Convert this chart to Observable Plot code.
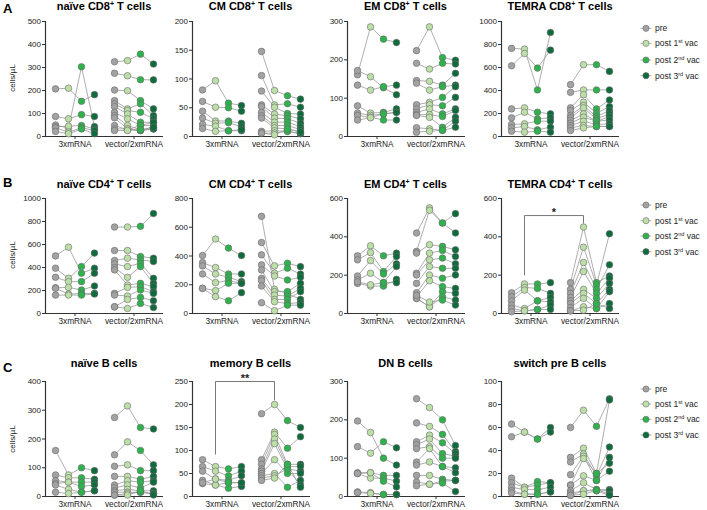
<!DOCTYPE html>
<html><head><meta charset="utf-8">
<script src="https://cdn.jsdelivr.net/npm/d3@7"></script>
<script src="https://cdn.jsdelivr.net/npm/@observablehq/plot@0.6"></script>
<style>
body{margin:0;background:#fff;}
#root{position:relative;width:707px;height:510px;overflow:hidden;background:#fff;font-family:"Liberation Sans",Arial,Helvetica,sans-serif;}
.title{position:absolute;font-weight:bold;font-size:11px;line-height:11px;white-space:nowrap;transform:translateX(-50%);color:#000;}
.title sup{font-size:7px;vertical-align:4px;line-height:0;}
.letter{position:absolute;font-weight:bold;font-size:13px;line-height:13px;color:#000;}
.leg{position:absolute;font-size:8.5px;line-height:9px;white-space:nowrap;color:#222;transform:translateY(-50%);}
.leg sup{font-size:5.5px;vertical-align:3px;line-height:0;}
.ylab{position:absolute;font-size:8px;white-space:nowrap;color:#222;transform:translate(-50%,-50%) rotate(-90deg);}
.plot{position:absolute;}
</style></head><body><div id="root"></div><script>
// ---------- data ----------
const groups = ["3xmRNA", "vector/2xmRNA"];
const timepoints = ["pre", "post 1st vac", "post 2nd vac", "post 3rd vac"];
const legendHtml = ["pre", "post 1<sup>st</sup> vac", "post 2<sup>nd</sup> vac", "post 3<sup>rd</sup> vac"];
const tpColors = ["#a2a2a2", "#bcdfa8", "#2db24c", "#0e6b3b"];
const rowLetters = ["A", "B", "C"];

const panelTitles = ["naïve CD8<sup>+</sup> T cells", "CM CD8<sup>+</sup> T cells", "EM CD8<sup>+</sup> T cells", "TEMRA CD8<sup>+</sup> T cells",
  "naïve CD4<sup>+</sup> T cells", "CM CD4<sup>+</sup> T cells", "EM CD4<sup>+</sup> T cells", "TEMRA CD4<sup>+</sup> T cells",
  "naïve B cells", "memory B cells", "DN B cells", "switch pre B cells"];
const yMaxes = [500, 200, 300, 1000, 1000, 800, 600, 600, 400, 250, 300, 100];
const yStepsList = [100, 50, 100, 200, 200, 200, 200, 200, 100, 50, 100, 20];

// each subject: [pre, post1, post2, post3]  (cells/µL)
const naiveCD8_3x = [[207,210,153,182],[50,36,303,43],[87,77,95,87],[42,45,48,33],[38,19,38,26],[22,12,33,12]];
const naiveCD8_vec = [[325,330,358,315],[275,264,247,246],[202,199,156,120],[156,120,142,91],[142,113,105,77],[130,98,62,62],[105,77,48,48],[91,48,29,40],[81,33,26,33],[48,29,48,62],[33,33,26,33],[26,26,29,40]];
const cmCD8_3x = [[81,97,58,54],[61,51,50,44],[44,27,27,23],[32,23,24,17],[21,18,10,10],[14,9,10,12]];
const cmCD8_vec = [[148,80,71,65],[106,55,57,51],[79,51,40,39],[55,39,36,31],[52,32,31,23],[42,25,25,17],[36,19,19,12],[32,15,13,8],[9,10,9,5],[6,6,9,5],[6,3,13,8]];
const emCD8_3x = [[161,286,254,245],[172,156,127,109],[134,121,130,134],[80,61,63,72],[61,55,59,63],[55,50,43,43],[43,49,59,63]];
const emCD8_vec = [[224,286,206,199],[191,176,191,189],[146,144,134,165],[139,121,130,134],[83,89,102,130],[72,83,80,102],[63,72,59,72],[57,57,52,68],[55,50,24,50],[23,20,16,40],[11,14,16,24]];
const temraCD8_3x = [[766,760,405,905],[615,722,595,751],[240,249,211,197],[162,211,153,162],[104,110,133,133],[75,87,58,81],[46,38,46,38]];
const temraCD8_vec = [[451,624,624,566],[384,405,405,405],[249,364,240,318],[225,298,202,260],[182,269,173,225],[162,249,153,197],[139,197,133,173],[116,168,133,144],[95,133,104,110],[75,95,87,87],[52,75,87,87]];
const naiveCD4_3x = [[501,577,350,394],[394,306,408,525],[315,277,277,350],[224,227,204,239],[219,169,175,175],[160,160,160,169]];
const naiveCD4_vec = [[752,752,758,869],[548,548,496,481],[461,481,466,452],[431,408,437,306],[399,315,408,262],[379,248,262,233],[175,227,233,190],[160,152,204,175],[58,122,140,111],[58,44,87,52]];
const cmCD4_3x = [[403,518,455,403],[354,320,275,275],[331,275,252,222],[275,215,229,210],[175,159,210,210],[175,117,89,145]];
const cmCD4_vec = [[676,168,140,98],[494,331,350,326],[408,280,315,275],[338,261,233,252],[303,152,152,210],[245,128,121,175],[229,98,98,152],[191,82,70,75],[75,19,58,58]];
const emCD4_3x = [[301,353,301,315],[280,318,219,297],[196,276,206,259],[175,210,161,245],[157,143,143,178],[165,150,161,161]];
const emCD4_vec = [[420,551,472,521],[324,539,472,420],[315,359,350,332],[210,315,329,297],[201,280,289,259],[157,245,236,236],[108,201,184,201],[87,171,140,131],[79,35,114,105],[79,35,87,70],[95,60,70,44]];
const temraCD4_3x = [[108,154,154,161],[87,136,131,105],[66,122,66,84],[44,26,66,61],[26,14,21,44],[9,14,21,21]];
const temraCD4_vec = [[161,451,161,196],[126,346,149,416],[105,266,126,254],[84,219,105,184],[66,126,79,157],[52,105,52,126],[31,79,26,114],[14,35,26,52],[14,17,52,26]];
const naiveB_3x = [[160,75,100,90],[75,65,65,60],[55,50,50,50],[45,50,35,40],[40,25,15,20],[15,10,15,20]];
const naiveB_vec = [[275,315,240,235],[145,190,160,110],[105,110,90,90],[70,70,60,70],[40,55,50,55],[30,40,30,50],[20,25,20,20],[15,15,15,10],[5,10,15,10],[5,5,20,5]];
const memB_3x = [[80,65,60,65],[65,55,45,55],[55,38,35,45],[35,25,30,30],[28,25,18,22],[30,38,30,30]];
const memB_vec = [[180,200,165,150],[80,140,105,130],[70,135,70,70],[60,125,65,65],[55,115,60,55],[50,80,50,50],[45,50,20,35],[40,45,60,25],[35,40,70,20]];
const dnB_3x = [[197,167,100,82],[130,113,143,127],[62,62,55,55],[60,48,48,40],[60,62,40,25],[12,10,5,5],[10,8,5,5]];
const dnB_vec = [[255,232,200,133],[192,183,162,117],[143,160,140,112],[135,150,112,105],[125,130,100,100],[90,125,78,75],[82,90,78,62],[55,55,45,42],[38,32,40,42],[28,32,35,13]];
const switchB_3x = [[63,56,50,60],[52,56,50,56],[16,8,13,12],[12,8,10,12],[8,6,6,8],[5,2,2,4],[3,2,2,4]];
const switchB_vec = [[60,75,61,85],[34,42,20,84],[30,37,18,43],[19,35,14,34],[10,33,20,29],[10,18,14,22],[5,12,6,6],[3,5,5,5],[1,5,6,2],[1,2,5,1]];

const panelSeries = [[naiveCD8_3x, naiveCD8_vec],[cmCD8_3x, cmCD8_vec],[emCD8_3x, emCD8_vec],[temraCD8_3x, temraCD8_vec],
  [naiveCD4_3x, naiveCD4_vec],[cmCD4_3x, cmCD4_vec],[emCD4_3x, emCD4_vec],[temraCD4_3x, temraCD4_vec],
  [naiveB_3x, naiveB_vec],[memB_3x, memB_vec],[dnB_3x, dnB_vec],[switchB_3x, switchB_vec]];

// significance brackets: panel index, compared timepoint, bracket top, left/right leg ends, label
const bracketPanels = [7, 9];
const bracketTime = [1, 1];
const bracketTops = [511, 250];
const bracketLeft = [201, 92];
const bracketRight = [472, 210];
const bracketLabels = ["*", "**"];

// ---------- layout ----------
const FONT = '"Liberation Sans", Arial, Helvetica, sans-serif';
const colX0 = [45, 191.5, 346.5, 501];
const rowTop = [20.8, 197.5, 381];
const titleTop = [0.5, 178.5, 357.5];
const letterTop = [1.5, 175.5, 360.5];
const legendY = [[28.3, 43.3, 60, 75.7], [205, 220.7, 236, 251.7], [389, 404, 419.3, 435]];
const plotH = 115, axisLen = 118;
const ML = 30, MR = 6, MT = 16, MB = 20;
const root = document.getElementById("root");

function xPos(g, t) { return g * 2 + 1 + (t - 1.5) * 0.44; }

panelSeries.forEach((series, i) => {
  const r = Math.floor(i / 4), c = i % 4;
  const rows = [];
  series.forEach((subs, g) => subs.forEach((vals, s) => vals.forEach((v, t) => {
    rows.push({group: groups[g], subject: g + "-" + s, tp: timepoints[t], x: xPos(g, t), y: v});
  })));
  const marks = [
    Plot.axisY({ticks: d3.range(0, yMaxes[i] + 1e-9, yStepsList[i]), tickSize: 3, tickPadding: 1.5, tickFormat: d => String(d), label: null, stroke: "#333", fontSize: 8}),
    Plot.axisX({ticks: [1, 3], tickSize: 3, tickPadding: 2, tickFormat: d => groups[(d - 1) / 2], label: null, stroke: "#333", fontSize: 8.3}),
    Plot.ruleX([0], {stroke: "#333", strokeWidth: 1.2}),
    Plot.ruleY([0], {stroke: "#333", strokeWidth: 1.2}),
    Plot.line(rows, {x: "x", y: "y", z: "subject", stroke: "#9b9b9b", strokeWidth: 0.8}),
    Plot.dot(rows, {x: "x", y: "y", fill: "tp", r: 3.3, stroke: "#6b6b6b", strokeWidth: 0.6})
  ];
  const b = bracketPanels.indexOf(i);
  if (b >= 0) {
    const xl = xPos(0, bracketTime[b]), xr = xPos(1, bracketTime[b]);
    const pts = [{x: xl, y: bracketLeft[b]}, {x: xl, y: bracketTops[b]}, {x: xr, y: bracketTops[b]}, {x: xr, y: bracketRight[b]}];
    marks.push(Plot.line(pts, {x: "x", y: "y", stroke: "#555", strokeWidth: 0.8}));
    marks.push(Plot.text([bracketLabels[b]], {x: (xl + xr) / 2, y: bracketTops[b], text: d => d, fontSize: 11, fontWeight: "bold", lineAnchor: "bottom", dy: 0, fill: "#222"}));
  }
  const chart = Plot.plot({
    width: ML + axisLen + MR, height: MT + plotH + MB,
    marginLeft: ML, marginRight: MR, marginTop: MT, marginBottom: MB,
    x: {domain: [0, 4]}, y: {domain: [0, yMaxes[i]]},
    color: {domain: timepoints, range: tpColors},
    style: {fontFamily: FONT, fontSize: "8px", color: "#222", background: "transparent", overflow: "visible"},
    marks
  });
  chart.classList.add("plot");
  chart.style.left = (colX0[c] - ML) + "px";
  chart.style.top = (rowTop[r] - MT) + "px";
  root.appendChild(chart);

  const t = document.createElement("div");
  t.className = "title"; t.innerHTML = panelTitles[i];
  t.style.left = (colX0[c] + axisLen / 2) + "px"; t.style.top = titleTop[r] + "px";
  root.appendChild(t);

  if (c === 0) {
    const yl = document.createElement("div");
    yl.className = "ylab"; yl.textContent = "cells/µL";
    yl.style.left = "12px"; yl.style.top = (rowTop[r] + plotH / 2) + "px";
    root.appendChild(yl);
    const L = document.createElement("div");
    L.className = "letter"; L.textContent = rowLetters[r];
    L.style.left = "3px"; L.style.top = letterTop[r] + "px";
    root.appendChild(L);
  }
});

// legends
const NS = "http://www.w3.org/2000/svg";
const ov = document.createElementNS(NS, "svg");
ov.setAttribute("width", 707); ov.setAttribute("height", 510);
ov.style.position = "absolute"; ov.style.left = "0"; ov.style.top = "0";
legendY.forEach(ys => ys.forEach((y, k) => {
  const ln = document.createElementNS(NS, "line");
  ln.setAttribute("x1", 640.5); ln.setAttribute("x2", 651.5); ln.setAttribute("y1", y); ln.setAttribute("y2", y);
  ln.setAttribute("stroke", "#9b9b9b"); ln.setAttribute("stroke-width", 0.8);
  ov.appendChild(ln);
  const ci = document.createElementNS(NS, "circle");
  ci.setAttribute("cx", 646); ci.setAttribute("cy", y); ci.setAttribute("r", 3.1);
  ci.setAttribute("fill", tpColors[k]); ci.setAttribute("stroke", "#6b6b6b"); ci.setAttribute("stroke-width", 0.6);
  ov.appendChild(ci);
  const d = document.createElement("div");
  d.className = "leg"; d.innerHTML = legendHtml[k];
  d.style.left = "655px"; d.style.top = y + "px";
  root.appendChild(d);
}));
root.appendChild(ov);
</script></body></html>
